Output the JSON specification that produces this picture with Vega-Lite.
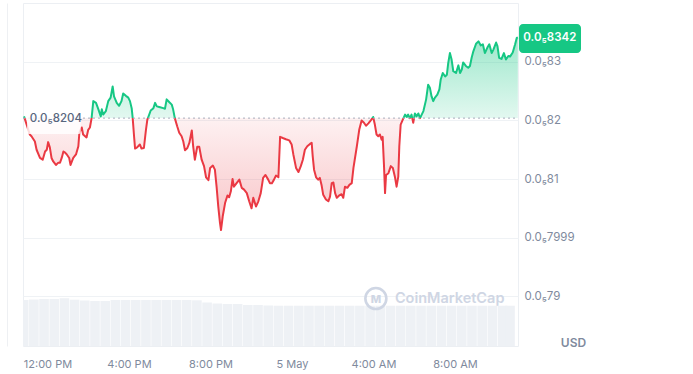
{
  "$schema": "https://vega.github.io/schema/vega-lite/v6.json",
  "autosize": "none",
  "width": 495,
  "height": 343,
  "padding": {"left": 23, "top": 3, "right": 175, "bottom": 28},
  "background": "white",
  "config": {
    "view": {"stroke": "#eceff3"},
    "font": "Inter",
    "axis": {"labelFont": "Inter", "titleFont": "Inter"}
  },
  "datasets": {
    "price": [
      {"t": "2024-05-04T10:51Z", "p": 8.207e-6},
      {"t": "2024-05-04T11:08Z", "p": 8.176e-6},
      {"t": "2024-05-04T11:13Z", "p": 8.173e-6},
      {"t": "2024-05-04T11:23Z", "p": 8.164e-6},
      {"t": "2024-05-04T11:28Z", "p": 8.150e-6},
      {"t": "2024-05-04T11:38Z", "p": 8.136e-6},
      {"t": "2024-05-04T11:46Z", "p": 8.133e-6},
      {"t": "2024-05-04T11:53Z", "p": 8.147e-6},
      {"t": "2024-05-04T11:58Z", "p": 8.150e-6},
      {"t": "2024-05-04T12:02Z", "p": 8.163e-6},
      {"t": "2024-05-04T12:07Z", "p": 8.154e-6},
      {"t": "2024-05-04T12:12Z", "p": 8.136e-6},
      {"t": "2024-05-04T12:17Z", "p": 8.130e-6},
      {"t": "2024-05-04T12:25Z", "p": 8.124e-6},
      {"t": "2024-05-04T12:32Z", "p": 8.128e-6},
      {"t": "2024-05-04T12:37Z", "p": 8.128e-6},
      {"t": "2024-05-04T12:42Z", "p": 8.136e-6},
      {"t": "2024-05-04T12:47Z", "p": 8.147e-6},
      {"t": "2024-05-04T12:52Z", "p": 8.145e-6},
      {"t": "2024-05-04T12:57Z", "p": 8.142e-6},
      {"t": "2024-05-04T13:04Z", "p": 8.136e-6},
      {"t": "2024-05-04T13:08Z", "p": 8.124e-6},
      {"t": "2024-05-04T13:16Z", "p": 8.136e-6},
      {"t": "2024-05-04T13:24Z", "p": 8.142e-6},
      {"t": "2024-05-04T13:31Z", "p": 8.156e-6},
      {"t": "2024-05-04T13:34Z", "p": 8.179e-6},
      {"t": "2024-05-04T13:41Z", "p": 8.188e-6},
      {"t": "2024-05-04T13:45Z", "p": 8.176e-6},
      {"t": "2024-05-04T13:55Z", "p": 8.171e-6},
      {"t": "2024-05-04T14:00Z", "p": 8.184e-6},
      {"t": "2024-05-04T14:05Z", "p": 8.188e-6},
      {"t": "2024-05-04T14:10Z", "p": 8.204e-6},
      {"t": "2024-05-04T14:15Z", "p": 8.233e-6},
      {"t": "2024-05-04T14:23Z", "p": 8.230e-6},
      {"t": "2024-05-04T14:30Z", "p": 8.219e-6},
      {"t": "2024-05-04T14:37Z", "p": 8.207e-6},
      {"t": "2024-05-04T14:40Z", "p": 8.219e-6},
      {"t": "2024-05-04T14:44Z", "p": 8.210e-6},
      {"t": "2024-05-04T14:52Z", "p": 8.216e-6},
      {"t": "2024-05-04T14:59Z", "p": 8.233e-6},
      {"t": "2024-05-04T15:06Z", "p": 8.239e-6},
      {"t": "2024-05-04T15:12Z", "p": 8.258e-6},
      {"t": "2024-05-04T15:16Z", "p": 8.241e-6},
      {"t": "2024-05-04T15:24Z", "p": 8.230e-6},
      {"t": "2024-05-04T15:31Z", "p": 8.225e-6},
      {"t": "2024-05-04T15:38Z", "p": 8.233e-6},
      {"t": "2024-05-04T15:43Z", "p": 8.246e-6},
      {"t": "2024-05-04T15:51Z", "p": 8.242e-6},
      {"t": "2024-05-04T15:58Z", "p": 8.239e-6},
      {"t": "2024-05-04T16:03Z", "p": 8.233e-6},
      {"t": "2024-05-04T16:08Z", "p": 8.221e-6},
      {"t": "2024-05-04T16:11Z", "p": 8.204e-6},
      {"t": "2024-05-04T16:15Z", "p": 8.173e-6},
      {"t": "2024-05-04T16:18Z", "p": 8.152e-6},
      {"t": "2024-05-04T16:24Z", "p": 8.154e-6},
      {"t": "2024-05-04T16:32Z", "p": 8.159e-6},
      {"t": "2024-05-04T16:37Z", "p": 8.152e-6},
      {"t": "2024-05-04T16:44Z", "p": 8.153e-6},
      {"t": "2024-05-04T16:50Z", "p": 8.184e-6},
      {"t": "2024-05-04T16:54Z", "p": 8.201e-6},
      {"t": "2024-05-04T17:04Z", "p": 8.217e-6},
      {"t": "2024-05-04T17:12Z", "p": 8.221e-6},
      {"t": "2024-05-04T17:17Z", "p": 8.230e-6},
      {"t": "2024-05-04T17:22Z", "p": 8.224e-6},
      {"t": "2024-05-04T17:29Z", "p": 8.223e-6},
      {"t": "2024-05-04T17:41Z", "p": 8.221e-6},
      {"t": "2024-05-04T17:46Z", "p": 8.220e-6},
      {"t": "2024-05-04T17:51Z", "p": 8.236e-6},
      {"t": "2024-05-04T17:59Z", "p": 8.231e-6},
      {"t": "2024-05-04T18:06Z", "p": 8.227e-6},
      {"t": "2024-05-04T18:10Z", "p": 8.219e-6},
      {"t": "2024-05-04T18:15Z", "p": 8.204e-6},
      {"t": "2024-05-04T18:22Z", "p": 8.190e-6},
      {"t": "2024-05-04T18:28Z", "p": 8.179e-6},
      {"t": "2024-05-04T18:35Z", "p": 8.173e-6},
      {"t": "2024-05-04T18:40Z", "p": 8.164e-6},
      {"t": "2024-05-04T18:45Z", "p": 8.149e-6},
      {"t": "2024-05-04T18:52Z", "p": 8.153e-6},
      {"t": "2024-05-04T18:58Z", "p": 8.162e-6},
      {"t": "2024-05-04T19:05Z", "p": 8.183e-6},
      {"t": "2024-05-04T19:09Z", "p": 8.156e-6},
      {"t": "2024-05-04T19:14Z", "p": 8.133e-6},
      {"t": "2024-05-04T19:21Z", "p": 8.155e-6},
      {"t": "2024-05-04T19:27Z", "p": 8.155e-6},
      {"t": "2024-05-04T19:34Z", "p": 8.133e-6},
      {"t": "2024-05-04T19:41Z", "p": 8.122e-6},
      {"t": "2024-05-04T19:47Z", "p": 8.103e-6},
      {"t": "2024-05-04T19:54Z", "p": 8.098e-6},
      {"t": "2024-05-04T19:59Z", "p": 8.119e-6},
      {"t": "2024-05-04T20:07Z", "p": 8.123e-6},
      {"t": "2024-05-04T20:13Z", "p": 8.116e-6},
      {"t": "2024-05-04T20:18Z", "p": 8.087e-6},
      {"t": "2024-05-04T20:23Z", "p": 8.053e-6},
      {"t": "2024-05-04T20:28Z", "p": 8.025e-6},
      {"t": "2024-05-04T20:31Z", "p": 8.013e-6},
      {"t": "2024-05-04T20:36Z", "p": 8.036e-6},
      {"t": "2024-05-04T20:43Z", "p": 8.059e-6},
      {"t": "2024-05-04T20:50Z", "p": 8.072e-6},
      {"t": "2024-05-04T20:55Z", "p": 8.069e-6},
      {"t": "2024-05-04T21:00Z", "p": 8.079e-6},
      {"t": "2024-05-04T21:05Z", "p": 8.100e-6},
      {"t": "2024-05-04T21:09Z", "p": 8.087e-6},
      {"t": "2024-05-04T21:17Z", "p": 8.093e-6},
      {"t": "2024-05-04T21:25Z", "p": 8.099e-6},
      {"t": "2024-05-04T21:32Z", "p": 8.085e-6},
      {"t": "2024-05-04T21:39Z", "p": 8.082e-6},
      {"t": "2024-05-04T21:47Z", "p": 8.076e-6},
      {"t": "2024-05-04T21:54Z", "p": 8.062e-6},
      {"t": "2024-05-04T22:01Z", "p": 8.050e-6},
      {"t": "2024-05-04T22:06Z", "p": 8.068e-6},
      {"t": "2024-05-04T22:14Z", "p": 8.053e-6},
      {"t": "2024-05-04T22:21Z", "p": 8.062e-6},
      {"t": "2024-05-04T22:28Z", "p": 8.076e-6},
      {"t": "2024-05-04T22:35Z", "p": 8.102e-6},
      {"t": "2024-05-04T22:42Z", "p": 8.107e-6},
      {"t": "2024-05-04T22:50Z", "p": 8.099e-6},
      {"t": "2024-05-04T22:55Z", "p": 8.093e-6},
      {"t": "2024-05-04T23:01Z", "p": 8.093e-6},
      {"t": "2024-05-04T23:07Z", "p": 8.099e-6},
      {"t": "2024-05-04T23:13Z", "p": 8.106e-6},
      {"t": "2024-05-04T23:20Z", "p": 8.103e-6},
      {"t": "2024-05-04T23:25Z", "p": 8.172e-6},
      {"t": "2024-05-04T23:33Z", "p": 8.170e-6},
      {"t": "2024-05-04T23:42Z", "p": 8.168e-6},
      {"t": "2024-05-04T23:52Z", "p": 8.166e-6},
      {"t": "2024-05-04T23:59Z", "p": 8.159e-6},
      {"t": "2024-05-05T00:04Z", "p": 8.142e-6},
      {"t": "2024-05-05T00:12Z", "p": 8.119e-6},
      {"t": "2024-05-05T00:19Z", "p": 8.112e-6},
      {"t": "2024-05-05T00:26Z", "p": 8.122e-6},
      {"t": "2024-05-05T00:32Z", "p": 8.133e-6},
      {"t": "2024-05-05T00:38Z", "p": 8.150e-6},
      {"t": "2024-05-05T00:45Z", "p": 8.156e-6},
      {"t": "2024-05-05T00:53Z", "p": 8.160e-6},
      {"t": "2024-05-05T00:58Z", "p": 8.162e-6},
      {"t": "2024-05-05T01:01Z", "p": 8.139e-6},
      {"t": "2024-05-05T01:05Z", "p": 8.116e-6},
      {"t": "2024-05-05T01:11Z", "p": 8.103e-6},
      {"t": "2024-05-05T01:17Z", "p": 8.099e-6},
      {"t": "2024-05-05T01:22Z", "p": 8.102e-6},
      {"t": "2024-05-05T01:27Z", "p": 8.090e-6},
      {"t": "2024-05-05T01:32Z", "p": 8.073e-6},
      {"t": "2024-05-05T01:40Z", "p": 8.065e-6},
      {"t": "2024-05-05T01:47Z", "p": 8.062e-6},
      {"t": "2024-05-05T01:52Z", "p": 8.070e-6},
      {"t": "2024-05-05T01:57Z", "p": 8.093e-6},
      {"t": "2024-05-05T02:02Z", "p": 8.094e-6},
      {"t": "2024-05-05T02:07Z", "p": 8.076e-6},
      {"t": "2024-05-05T02:12Z", "p": 8.068e-6},
      {"t": "2024-05-05T02:19Z", "p": 8.072e-6},
      {"t": "2024-05-05T02:26Z", "p": 8.074e-6},
      {"t": "2024-05-05T02:31Z", "p": 8.068e-6},
      {"t": "2024-05-05T02:36Z", "p": 8.087e-6},
      {"t": "2024-05-05T02:43Z", "p": 8.085e-6},
      {"t": "2024-05-05T02:49Z", "p": 8.090e-6},
      {"t": "2024-05-05T02:56Z", "p": 8.093e-6},
      {"t": "2024-05-05T03:01Z", "p": 8.119e-6},
      {"t": "2024-05-05T03:11Z", "p": 8.156e-6},
      {"t": "2024-05-05T03:18Z", "p": 8.184e-6},
      {"t": "2024-05-05T03:25Z", "p": 8.200e-6},
      {"t": "2024-05-05T03:32Z", "p": 8.196e-6},
      {"t": "2024-05-05T03:38Z", "p": 8.191e-6},
      {"t": "2024-05-05T03:45Z", "p": 8.195e-6},
      {"t": "2024-05-05T03:52Z", "p": 8.200e-6},
      {"t": "2024-05-05T03:59Z", "p": 8.206e-6},
      {"t": "2024-05-05T04:04Z", "p": 8.193e-6},
      {"t": "2024-05-05T04:09Z", "p": 8.176e-6},
      {"t": "2024-05-05T04:14Z", "p": 8.173e-6},
      {"t": "2024-05-05T04:19Z", "p": 8.176e-6},
      {"t": "2024-05-05T04:24Z", "p": 8.167e-6},
      {"t": "2024-05-05T04:27Z", "p": 8.172e-6},
      {"t": "2024-05-05T04:31Z", "p": 8.122e-6},
      {"t": "2024-05-05T04:34Z", "p": 8.076e-6},
      {"t": "2024-05-05T04:37Z", "p": 8.107e-6},
      {"t": "2024-05-05T04:44Z", "p": 8.110e-6},
      {"t": "2024-05-05T04:51Z", "p": 8.122e-6},
      {"t": "2024-05-05T04:57Z", "p": 8.119e-6},
      {"t": "2024-05-05T05:03Z", "p": 8.104e-6},
      {"t": "2024-05-05T05:08Z", "p": 8.087e-6},
      {"t": "2024-05-05T05:13Z", "p": 8.104e-6},
      {"t": "2024-05-05T05:16Z", "p": 8.156e-6},
      {"t": "2024-05-05T05:20Z", "p": 8.193e-6},
      {"t": "2024-05-05T05:26Z", "p": 8.201e-6},
      {"t": "2024-05-05T05:33Z", "p": 8.210e-6},
      {"t": "2024-05-05T05:38Z", "p": 8.206e-6},
      {"t": "2024-05-05T05:42Z", "p": 8.210e-6},
      {"t": "2024-05-05T05:47Z", "p": 8.204e-6},
      {"t": "2024-05-05T05:52Z", "p": 8.210e-6},
      {"t": "2024-05-05T05:57Z", "p": 8.196e-6},
      {"t": "2024-05-05T06:02Z", "p": 8.212e-6},
      {"t": "2024-05-05T06:07Z", "p": 8.207e-6},
      {"t": "2024-05-05T06:12Z", "p": 8.212e-6},
      {"t": "2024-05-05T06:17Z", "p": 8.204e-6},
      {"t": "2024-05-05T06:22Z", "p": 8.210e-6},
      {"t": "2024-05-05T06:27Z", "p": 8.216e-6},
      {"t": "2024-05-05T06:35Z", "p": 8.236e-6},
      {"t": "2024-05-05T06:41Z", "p": 8.261e-6},
      {"t": "2024-05-05T06:46Z", "p": 8.256e-6},
      {"t": "2024-05-05T06:51Z", "p": 8.241e-6},
      {"t": "2024-05-05T06:56Z", "p": 8.233e-6},
      {"t": "2024-05-05T07:01Z", "p": 8.239e-6},
      {"t": "2024-05-05T07:08Z", "p": 8.244e-6},
      {"t": "2024-05-05T07:14Z", "p": 8.253e-6},
      {"t": "2024-05-05T07:18Z", "p": 8.270e-6},
      {"t": "2024-05-05T07:24Z", "p": 8.281e-6},
      {"t": "2024-05-05T07:31Z", "p": 8.275e-6},
      {"t": "2024-05-05T07:36Z", "p": 8.278e-6},
      {"t": "2024-05-05T07:40Z", "p": 8.298e-6},
      {"t": "2024-05-05T07:45Z", "p": 8.315e-6},
      {"t": "2024-05-05T07:50Z", "p": 8.304e-6},
      {"t": "2024-05-05T07:55Z", "p": 8.284e-6},
      {"t": "2024-05-05T08:03Z", "p": 8.281e-6},
      {"t": "2024-05-05T08:10Z", "p": 8.294e-6},
      {"t": "2024-05-05T08:15Z", "p": 8.281e-6},
      {"t": "2024-05-05T08:20Z", "p": 8.287e-6},
      {"t": "2024-05-05T08:24Z", "p": 8.299e-6},
      {"t": "2024-05-05T08:32Z", "p": 8.293e-6},
      {"t": "2024-05-05T08:39Z", "p": 8.290e-6},
      {"t": "2024-05-05T08:44Z", "p": 8.293e-6},
      {"t": "2024-05-05T08:49Z", "p": 8.307e-6},
      {"t": "2024-05-05T08:54Z", "p": 8.318e-6},
      {"t": "2024-05-05T09:02Z", "p": 8.331e-6},
      {"t": "2024-05-05T09:09Z", "p": 8.335e-6},
      {"t": "2024-05-05T09:16Z", "p": 8.328e-6},
      {"t": "2024-05-05T09:22Z", "p": 8.330e-6},
      {"t": "2024-05-05T09:28Z", "p": 8.315e-6},
      {"t": "2024-05-05T09:35Z", "p": 8.324e-6},
      {"t": "2024-05-05T09:41Z", "p": 8.330e-6},
      {"t": "2024-05-05T09:48Z", "p": 8.315e-6},
      {"t": "2024-05-05T09:53Z", "p": 8.321e-6},
      {"t": "2024-05-05T10:01Z", "p": 8.333e-6},
      {"t": "2024-05-05T10:05Z", "p": 8.327e-6},
      {"t": "2024-05-05T10:10Z", "p": 8.307e-6},
      {"t": "2024-05-05T10:17Z", "p": 8.305e-6},
      {"t": "2024-05-05T10:24Z", "p": 8.315e-6},
      {"t": "2024-05-05T10:30Z", "p": 8.304e-6},
      {"t": "2024-05-05T10:37Z", "p": 8.310e-6},
      {"t": "2024-05-05T10:42Z", "p": 8.309e-6},
      {"t": "2024-05-05T10:50Z", "p": 8.316e-6},
      {"t": "2024-05-05T10:57Z", "p": 8.330e-6},
      {"t": "2024-05-05T11:02Z", "p": 8.341e-6},
      {"t": "2024-05-05T11:05Z", "p": 8.342e-6}
    ],
    "volume": [
      {"t": "2024-05-04T10:50Z", "v": 9.39},
      {"t": "2024-05-04T11:20Z", "v": 9.49},
      {"t": "2024-05-04T11:50Z", "v": 9.59},
      {"t": "2024-05-04T12:20Z", "v": 9.59},
      {"t": "2024-05-04T12:50Z", "v": 9.73},
      {"t": "2024-05-04T13:20Z", "v": 9.45},
      {"t": "2024-05-04T13:50Z", "v": 9.29},
      {"t": "2024-05-04T14:20Z", "v": 9.18},
      {"t": "2024-05-04T14:50Z", "v": 9.18},
      {"t": "2024-05-04T15:20Z", "v": 9.39},
      {"t": "2024-05-04T15:50Z", "v": 9.39},
      {"t": "2024-05-04T16:20Z", "v": 9.39},
      {"t": "2024-05-04T16:50Z", "v": 9.39},
      {"t": "2024-05-04T17:20Z", "v": 9.39},
      {"t": "2024-05-04T17:50Z", "v": 9.39},
      {"t": "2024-05-04T18:20Z", "v": 9.39},
      {"t": "2024-05-04T18:50Z", "v": 9.39},
      {"t": "2024-05-04T19:20Z", "v": 9.33},
      {"t": "2024-05-04T19:50Z", "v": 8.88},
      {"t": "2024-05-04T20:20Z", "v": 8.67},
      {"t": "2024-05-04T20:50Z", "v": 8.57},
      {"t": "2024-05-04T21:20Z", "v": 8.57},
      {"t": "2024-05-04T21:50Z", "v": 8.37},
      {"t": "2024-05-04T22:20Z", "v": 8.37},
      {"t": "2024-05-04T22:50Z", "v": 8.27},
      {"t": "2024-05-04T23:20Z", "v": 8.22},
      {"t": "2024-05-04T23:50Z", "v": 8.22},
      {"t": "2024-05-05T00:20Z", "v": 8.22},
      {"t": "2024-05-05T00:50Z", "v": 8.22},
      {"t": "2024-05-05T01:20Z", "v": 8.22},
      {"t": "2024-05-05T01:50Z", "v": 8.22},
      {"t": "2024-05-05T02:20Z", "v": 8.22},
      {"t": "2024-05-05T02:50Z", "v": 8.22},
      {"t": "2024-05-05T03:20Z", "v": 8.22},
      {"t": "2024-05-05T03:50Z", "v": 8.22},
      {"t": "2024-05-05T04:20Z", "v": 8.22},
      {"t": "2024-05-05T04:50Z", "v": 8.22},
      {"t": "2024-05-05T05:20Z", "v": 8.22},
      {"t": "2024-05-05T05:50Z", "v": 8.22},
      {"t": "2024-05-05T06:20Z", "v": 8.22},
      {"t": "2024-05-05T06:50Z", "v": 8.22},
      {"t": "2024-05-05T07:20Z", "v": 8.22},
      {"t": "2024-05-05T07:50Z", "v": 8.22},
      {"t": "2024-05-05T08:20Z", "v": 8.22},
      {"t": "2024-05-05T08:50Z", "v": 8.22},
      {"t": "2024-05-05T09:20Z", "v": 8.22},
      {"t": "2024-05-05T09:50Z", "v": 8.22},
      {"t": "2024-05-05T10:20Z", "v": 8.22},
      {"t": "2024-05-05T10:42Z", "v": 8.22}
    ]
  },
  "encoding": {
    "x": {
      "field": "t",
      "type": "temporal",
      "scale": {
        "type": "utc",
        "domain": [1714819680000, 1714907130000],
        "padding": 0
      },
      "axis": {
        "title": null,
        "grid": false,
        "ticks": false,
        "domain": false,
        "values": [1714824000000, 1714838400000, 1714852800000, 1714867200000, 1714881600000, 1714896000000],
        "labelExpr": "utchours(datum.value) == 0 ? utcFormat(datum.value, '%-d %b') : utcFormat(datum.value, '%-I:%M %p')",
        "labelPadding": 12,
        "labelColor": "#808a9d",
        "labelFontSize": 11,
        "labelFlush": false,
        "labelOverlap": false
      }
    }
  },
  "layer": [
    {
      "data": {"name": "volume"},
      "mark": {"type": "bar", "width": 9.6, "color": "#eef1f5", "clip": true},
      "encoding": {
        "y": {
          "field": "v",
          "type": "quantitative",
          "scale": {"domain": [0, 70], "nice": false},
          "axis": {
            "orient": "left",
            "offset": 16,
            "labels": false,
            "ticks": false,
            "grid": false,
            "title": null,
            "domain": true,
            "domainColor": "#eef0f3"
          }
        }
      }
    },
    {
      "encoding": {
        "y": {
          "field": "p",
          "type": "quantitative",
          "scale": {"domain": [7.815e-6, 8.4005e-6], "nice": false, "zero": false},
          "axis": {
            "orient": "right",
            "values": [7.9e-6, 8e-6, 8.1e-6, 8.2e-6, 8.3e-6],
            "labelExpr": "'0.0₅' + (round(datum.value * 1e7) == 80 ? '7999' : round(datum.value * 1e7))",
            "grid": true,
            "gridColor": "#eff2f5",
            "ticks": false,
            "domain": false,
            "labelPadding": 6,
            "labelColor": "#808a9d",
            "labelFontSize": 11.5,
            "title": "USD",
            "titleAngle": 0,
            "titleX": 55,
            "titleY": 339,
            "titleAlign": "center",
            "titleBaseline": "middle",
            "titleColor": "#808a9d",
            "titleFontSize": 12,
            "titleFontWeight": 600
          }
        }
      },
      "layer": [
        {
          "data": {"name": "price"},
          "mark": {
            "type": "area",
            "fill": {
              "gradient": "linear",
              "x1": 0, "y1": 0, "x2": 0, "y2": 1,
              "stops": [
                {"offset": 0, "color": "rgba(22,199,132,0.42)"},
                {"offset": 0.4195, "color": "rgba(22,199,132,0.12)"},
                {"offset": 0.4195, "color": "rgba(234,57,67,0.07)"},
                {"offset": 1, "color": "rgba(234,57,67,0.30)"}
              ]
            }
          },
          "encoding": {"y2": {"datum": 8.204e-6}}
        },
        {
          "data": {"name": "price"},
          "mark": {
            "type": "line",
            "strokeWidth": 2,
            "strokeJoin": "round",
            "stroke": {
              "gradient": "linear",
              "x1": 0, "y1": 0, "x2": 0, "y2": 1,
              "stops": [
                {"offset": 0, "color": "#16c784"},
                {"offset": 0.4195, "color": "#16c784"},
                {"offset": 0.4195, "color": "#ea3943"},
                {"offset": 1, "color": "#ea3943"}
              ]
            }
          },
          "encoding": {}
        },
        {
          "data": {"values": [{"t": "2024-05-04T10:48Z", "t2": "2024-05-05T11:05:30Z", "p": 8.204e-6}]},
          "mark": {"type": "rule", "color": "#a7aebb", "strokeWidth": 1, "strokeDash": [2, 3]},
          "encoding": {"x2": {"field": "t2"}}
        },
        {
          "data": {"values": [{"t": "2024-05-04T11:00Z", "t2": "2024-05-04T13:38Z", "p": 8.2247e-6, "p2": 8.1769e-6}]},
          "mark": {"type": "rect", "color": "white", "opacity": 0.82, "cornerRadius": 2},
          "encoding": {"x2": {"field": "t2"}, "y2": {"field": "p2"}}
        },
        {
          "data": {"values": [{"t": "2024-05-04T11:08Z", "p": 8.204e-6, "label": "0.0₅8204"}]},
          "mark": {"type": "text", "align": "left", "baseline": "middle", "dy": 1, "fontSize": 11.5, "fontWeight": 500, "color": "#58667e"},
          "encoding": {"text": {"field": "label"}}
        },
        {
          "data": {"values": [{"t": "2024-05-05T04:07Z", "p": 7.896e-6}]},
          "mark": {"type": "point", "shape": "circle", "size": 440, "filled": false, "color": "#cfd6e4", "strokeWidth": 2.6, "opacity": 1},
          "encoding": {}
        },
        {
          "data": {"values": [{"t": "2024-05-05T04:07Z", "p": 7.896e-6, "label": "M"}]},
          "mark": {"type": "text", "align": "center", "baseline": "middle", "fontSize": 11, "fontWeight": 800, "color": "#cfd6e4", "dy": 1},
          "encoding": {"text": {"field": "label"}}
        },
        {
          "data": {"values": [{"t": "2024-05-05T05:03Z", "p": 7.896e-6, "label": "CoinMarketCap"}]},
          "mark": {"type": "text", "align": "left", "baseline": "middle", "fontSize": 14.5, "fontWeight": 600, "color": "#cfd6e4"},
          "encoding": {"text": {"field": "label"}}
        },
        {
          "data": {"values": [{"t": "2024-05-05T11:08:30Z", "t2": "2024-05-05T14:11Z", "p": 8.3646e-6, "p2": 8.3151e-6}]},
          "mark": {"type": "rect", "color": "#16c784", "opacity": 1, "cornerRadius": 4, "clip": false},
          "encoding": {"x2": {"field": "t2"}, "y2": {"field": "p2"}}
        },
        {
          "data": {"values": [{"t": "2024-05-05T11:05Z", "p": 8.342e-6, "label": "0.0₅8342"}]},
          "mark": {"type": "text", "align": "center", "baseline": "middle", "fontSize": 11.5, "fontWeight": 600, "color": "white", "xOffset": 32, "yOffset": 1},
          "encoding": {"text": {"field": "label"}}
        }
      ]
    }
  ],
  "resolve": {"scale": {"y": "independent"}}
}
